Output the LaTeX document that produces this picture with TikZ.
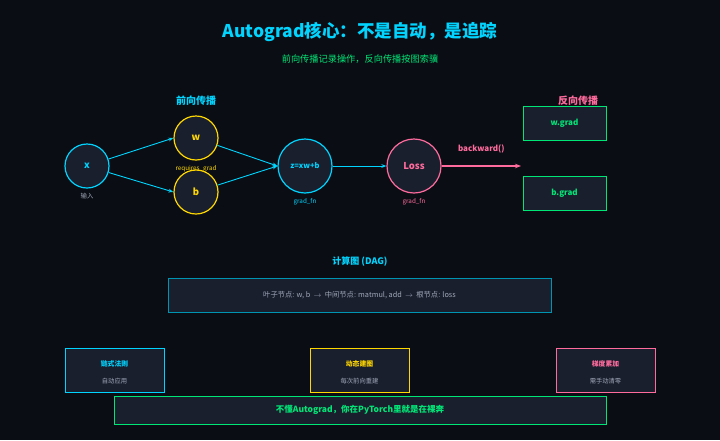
\documentclass[tikz,border=0pt]{standalone}
\usepackage{fontspec}
\setmainfont{Noto Sans CJK SC}
\usetikzlibrary{arrows.meta}
\definecolor{bgc}{HTML}{0A0E14}
\definecolor{boxc}{HTML}{1A1F2E}
\definecolor{cyanc}{HTML}{00D4FF}
\definecolor{yelc}{HTML}{FFD700}
\definecolor{pinkc}{HTML}{FF6B9D}
\definecolor{grnc}{HTML}{00E676}
\definecolor{grayc}{HTML}{A0A8B8}
\begin{document}
\begin{tikzpicture}[x=1pt,y=-1pt,
  var/.style={circle,draw=#1,line width=1.2pt,fill=boxc,text=#1,font=\bfseries\fontsize{9.5}{10}\selectfont,minimum size=44pt,inner sep=0pt},
  op/.style={var=#1,minimum size=54pt},
  card/.style={rectangle,draw=#1,line width=1pt,fill=boxc,inner sep=0pt},
  note/.style={text=#1,font=\fontsize{6.3}{7}\selectfont},
  link/.style={-{Stealth[length=5pt]},draw=cyanc,line width=0.9pt}]
\fill[bgc] (0,0) rectangle (720,440);
\node at (360,32) (title) [text=cyanc,font=\bfseries\fontsize{17.5}{20}\selectfont] {Autograd核心：不是自动，是追踪};
\node at (360,59) (sub) [text=grnc,font=\fontsize{9.2}{11}\selectfont] {前向传播记录操作，反向传播按图索骥};
\node at (196,101) (fwd) [text=cyanc,font=\bfseries\fontsize{10}{12}\selectfont] {前向传播};
\node at (578,101) (bwd) [text=pinkc,font=\bfseries\fontsize{10}{12}\selectfont] {反向传播};
% graph
\node at ( 87,166) (x) [var=cyanc] {x};
\node at (196,138) (w) [var=yelc] {w};
\node at (196,192) (b) [var=yelc] {b};
\node at (305,166) (z) [op=cyanc,font=\bfseries\fontsize{7.5}{8}\selectfont] {z=xw+b};
\node at (414,166) (loss) [op=pinkc] {Loss};
\node at (x.south) [below=1pt,note=grayc] {输入};
\node at (w.south) [below=1pt,note=yelc] {requires\_grad};
\node at (z.south) [below=1pt,note=cyanc] {grad\_fn};
\node at (loss.south) [below=1pt,note=pinkc] {grad\_fn};
\draw [link] (x) -- (w.west);
\draw [link] (x) -- (b.west);
\draw [link] (w) -- (z.west);
\draw [link] (b) -- (z.west);
\draw [link] (z) -- (loss);
\coordinate (tip) at (521,166);
\draw [-{Stealth[length=6pt]},draw=pinkc,line width=2pt] (loss) -- (tip) node[midway,above=9pt,text=pinkc,font=\bfseries\fontsize{8}{9}\selectfont]{backward()};
\node at (564.5,123) (wg) [card=grnc,minimum width=83pt,minimum height=34pt,text=grnc,font=\bfseries\fontsize{8}{9}\selectfont] {w.grad};
\node at (564.5,193) (bg) [card=grnc,minimum width=83pt,minimum height=34pt,text=grnc,font=\bfseries\fontsize{8}{9}\selectfont] {b.grad};
% DAG
\node at (360,262) (dagt) [text=cyanc,font=\bfseries\fontsize{9}{10}\selectfont] {计算图 (DAG)};
\node at (359.5,295) (dag) [card=cyanc!70!black,minimum width=383pt,minimum height=34pt,text=grayc,font=\fontsize{7.3}{8}\selectfont] {叶子节点: w, b \ $\rightarrow$ \ 中间节点: matmul, add \ $\rightarrow$ \ 根节点: loss};
% facts
\foreach \cx/\col/\head/\body [count=\i] in {114.5/cyanc/链式法则/自动应用, 359.5/yelc/动态建图/每次前向重建, 605.5/pinkc/梯度累加/需手动清零}{
  \node at (\cx,370) (fact\i) [card=\col,minimum width=99pt,minimum height=44pt] {};
  \node at (\cx,364) (head\i) [text=\col,font=\bfseries\fontsize{6.8}{8}\selectfont] {\head};
  \node at (\cx,381) (body\i) [note=grayc] {\body};
}
\node at (360,410) (motto) [card=grnc,minimum width=492pt,minimum height=28pt,text=grnc,font=\bfseries\fontsize{8.5}{10}\selectfont] {不懂Autograd，你在PyTorch里就是在裸奔};
\end{tikzpicture}
\end{document}
